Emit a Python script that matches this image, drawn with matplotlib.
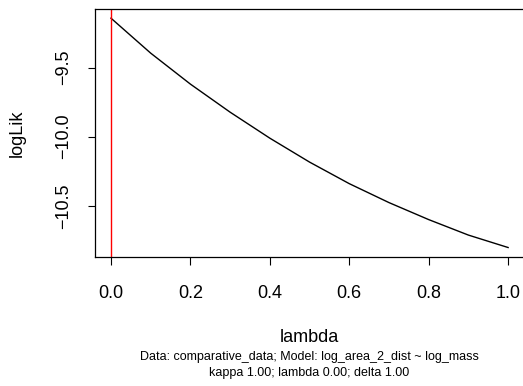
import matplotlib
matplotlib.use('Agg')
import matplotlib.pyplot as plt

# logLik profile over lambda
lambdas = [0.0, 0.1, 0.2, 0.3, 0.4, 0.5, 0.6, 0.7, 0.8, 0.9, 1.0]
loglik = [-9.143, -9.396, -9.620, -9.823, -10.011, -10.184,
          -10.340, -10.477, -10.600, -10.712, -10.802]
best_lambda = 0.0

x_ticks = [0.0, 0.2, 0.4, 0.6, 0.8, 1.0]
y_ticks = [-9.5, -10.0, -10.5]

sub1 = "Data: comparative_data; Model: log_area_2_dist ~ log_mass"
sub2 = "kappa 1.00; lambda 0.00; delta 1.00"

plt.rcParams['font.family'] = ['Liberation Sans', 'DejaVu Sans']


def fmt(v):
    return ('%.1f' % v).replace('-', '\u2212')


W, H = 523, 386
fig = plt.figure(figsize=(W / 100, H / 100), dpi=100)
left, right, top, bottom = 95.1, 524.0, 9.0, 256.7
ax = fig.add_axes([left / W, 1 - bottom / H, (right - left) / W, (bottom - top) / H])

ax.plot(lambdas, loglik, color='black', lw=1.0)
ax.axvline(best_lambda, color='red', lw=1.0)

pad_x = (max(lambdas) - min(lambdas)) * 0.04
ax.set_xlim(min(lambdas) - pad_x, max(lambdas) + pad_x)
pad_y = (max(loglik) - min(loglik)) * 0.04
ax.set_ylim(min(loglik) - pad_y, max(loglik) + pad_y)

ax.set_xticks(x_ticks)
ax.set_xticklabels([fmt(v) for v in x_ticks])
ax.set_yticks(y_ticks)
ax.set_yticklabels([fmt(v) for v in y_ticks], rotation=90, va='center')
ax.tick_params(axis='both', length=5.4, width=0.8, labelsize=13)
ax.tick_params(axis='x', pad=15)
ax.tick_params(axis='y', pad=11)
for s in ax.spines.values():
    s.set_linewidth(0.9)

fig.text(309.5 / W, 1 - 337.3 / H, "lambda", ha='center', va='center', fontsize=13)
fig.text(17 / W, 1 - 132.9 / H, "logLik", ha='center', va='center', rotation=90, fontsize=13)
fig.text(309.5 / W, 1 - 357.3 / H, sub1, ha='center', va='center', fontsize=9)
fig.text(309.5 / W, 1 - 373.3 / H, sub2, ha='center', va='center', fontsize=9)

fig.savefig('out.png', dpi=100)
